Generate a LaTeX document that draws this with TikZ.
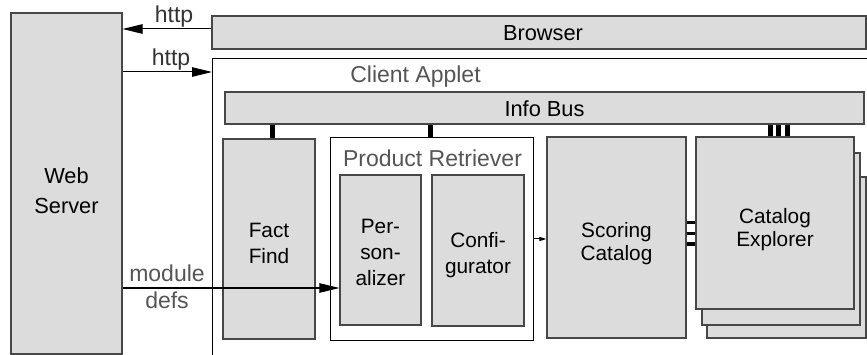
\documentclass[tikz,border=0pt]{standalone}
\usepackage{fontspec}
\setmainfont{Liberation Sans}
\usetikzlibrary{arrows.meta}
\definecolor{boxfill}{HTML}{DCDCDC}
\definecolor{boxline}{HTML}{474747}
\definecolor{lblgray}{HTML}{555555}
\definecolor{httpgray}{HTML}{333333}
\tikzset{
  box/.style={draw=boxline, fill=boxfill, line width=1.2pt, inner sep=0pt},
  frame/.style={draw=black, line width=1pt},
  txt/.style={inner sep=0pt, align=center, text=black},
  lbl/.style={inner sep=0pt, align=center, text=lblgray},
  httplbl/.style={inner sep=0pt, text=httpgray, anchor=base, font=\fontsize{23}{27}\selectfont},
  bigarrow/.style={draw=black, line width=1pt, -{Triangle[length=20pt,width=9.5pt]}},
  smallarrow/.style={draw=black, line width=1pt, -{Triangle[length=7pt,width=4pt]}},
  busbar/.style={draw=black, line width=5pt},
  sidebar/.style={draw=black, line width=3.5pt},
  bs/.style={font=\fontsize{20.8}{#1}\selectfont},
  big/.style={font=\fontsize{21.8}{#1}\selectfont},
  lblfont/.style={font=\fontsize{23}{#1}\selectfont},
}
\begin{document}
\begin{tikzpicture}[x=1pt, y=-1pt, font=\fontsize{21.6}{26}\selectfont]
\useasboundingbox (0,0) rectangle (867,355);
% client applet frame
\coordinate (appTL) at (212,59);
\coordinate (appTR) at (867,59);
\coordinate (appBL) at (212,355);
\draw[frame] (appTR) -- (appTL) -- (appBL);
\node[lbl, lblfont=27pt, anchor=base] (applab) at (415.5,83) {Client Applet};
% browser and web server
\node[box, minimum width=654, minimum height=33] (browser) at (539,32.5) {};
\node[txt, big=26pt, anchor=base] (browsertxt) at (543,40.7) {Browser};
\node[box, minimum width=111, minimum height=341] (web) at (66.5,183.5) {};
\node[txt, big=30pt] (webtxt) at (66.5,190.5) {Web\\Server};
% http arrows
\coordinate (h1) at (0,29);
\coordinate (h2) at (0,72);
\draw[bigarrow] (browser.west |- h1) -- (web.east |- h1);
\node[httplbl] (http1) at (174,22.3) {http};
\draw[bigarrow] (web.east |- h2) -- (appTL |- h2);
\node[httplbl] (http2) at (171,65.7) {http};
% info bus
\node[box, minimum width=639, minimum height=32] (infobus) at (544.5,108) {};
\node[txt, big=26pt, anchor=base] (infobustxt) at (544.5,116.7) {Info Bus};
% fact find
\node[box, minimum width=92, minimum height=200] (fact) at (269,239) {};
\node[txt, bs=26pt] (facttxt) at (269,243.3) {Fact\\Find};
% product retriever
\node[frame, fill=white, minimum width=203, minimum height=202, inner sep=0pt] (prodret) at (431.5,239) {};
\node[lbl, lblfont=27pt, anchor=base] (prodretlab) at (432.5,167) {Product Retriever};
\node[box, minimum width=81, minimum height=150] (pers) at (380.5,250) {};
\node[txt, bs=26.3pt] (perstxt) at (380.5,252.3) {Per-\\son-\\alizer};
\node[box, minimum width=92, minimum height=151] (conf) at (478,250.5) {};
\node[txt, bs=26.7pt] (conftxt) at (478,255) {Confi-\\gurator};
% scoring catalog
\node[box, minimum width=139, minimum height=201] (scoring) at (616.5,237.5) {};
\node[txt, bs=23pt] (scoringtxt) at (616.5,243.8) {Scoring\\Catalog};
% catalog explorer stack
\node[box, minimum width=159, minimum height=161] (expl3) at (786.5,257.5) {};
\node[box, minimum width=158, minimum height=172] (expl2) at (781,239) {};
\node[box, minimum width=158, minimum height=172] (expl) at (775,223) {};
\node[txt, bs=23pt] (expltxt) at (775,229.3) {Catalog\\Explorer};
% bus connections
\coordinate (b1) at (272.7,0);
\coordinate (b2) at (430.5,0);
\coordinate (b3) at (770,0);
\coordinate (b4) at (778.3,0);
\coordinate (b5) at (787.5,0);
\draw[busbar] (infobus.south -| b1) -- (fact.north -| b1);
\draw[busbar] (infobus.south -| b2) -- (prodret.north -| b2);
\draw[busbar] (infobus.south -| b3) -- (expl.north -| b3);
\draw[busbar] (infobus.south -| b4) -- (expl.north -| b4);
\draw[busbar] (infobus.south -| b5) -- (expl.north -| b5);
% scoring - explorer connections
\coordinate (c1) at (0,222.7);
\coordinate (c2) at (0,233.3);
\coordinate (c3) at (0,244);
\draw[sidebar] (scoring.east |- c1) -- (expl.west |- c1);
\draw[sidebar] (scoring.east |- c2) -- (expl.west |- c2);
\draw[sidebar] (scoring.east |- c3) -- (expl.west |- c3);
% configurator -> scoring
\draw[smallarrow] (prodret.east) -- (scoring.west |- prodret.east);
% module defs
\coordinate (h3) at (0,288);
\draw[bigarrow] (web.east |- h3) -- (pers.west |- h3);
\node[lbl, lblfont=27.3pt] (modlab) at (167,286.7) {module\\defs};
\end{tikzpicture}
\end{document}
